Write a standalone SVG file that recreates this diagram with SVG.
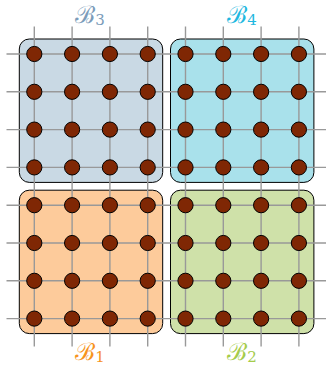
<svg xmlns="http://www.w3.org/2000/svg" width="326" height="365" viewBox="0 0 326 365">
<style>
.box{stroke:#000;stroke-width:1}
.grid line{stroke:#999;stroke-width:1.4}
.pt{fill:#7f2704;stroke:#000;stroke-width:1}
.lbl{font-family:"DejaVu Serif","Liberation Serif",serif;font-size:24px;text-anchor:middle}
.sub{font-size:15px}
</style>
<defs>
<g id="pts">
<circle class="pt" cx="0" cy="0" r="7.6"/>
<circle class="pt" cx="37.8" cy="0" r="7.6"/>
<circle class="pt" cx="75.6" cy="0" r="7.6"/>
<circle class="pt" cx="113.4" cy="0" r="7.6"/>
</g>
</defs>
<g id="block3">
<rect class="box" x="19.3" y="39" width="143.4" height="143.4" rx="10" fill="#c9d9e4"/>
<text class="lbl" x="90" y="23" fill="#7b9cba">ℬ<tspan class="sub" dy="2">3</tspan></text>
</g>
<g id="block4">
<rect class="box" x="170.5" y="39" width="143.4" height="143.4" rx="10" fill="#a9e1eb"/>
<text class="lbl" x="242" y="23" fill="#1fb8e0">ℬ<tspan class="sub" dy="2">4</tspan></text>
</g>
<g id="block1">
<rect class="box" x="19.3" y="190.2" width="143.4" height="143.4" rx="10" fill="#fdcb9b"/>
<text class="lbl" x="90" y="360" fill="#f7941d">ℬ<tspan class="sub" dy="2">1</tspan></text>
</g>
<g id="block2">
<rect class="box" x="170.5" y="190.2" width="143.4" height="143.4" rx="10" fill="#cfe1a9"/>
<text class="lbl" x="242" y="360" fill="#a5cc4b">ℬ<tspan class="sub" dy="2">2</tspan></text>
</g>
<g id="connectors" class="grid">
<line x1="34.3" y1="26.5" x2="34.3" y2="346.5"/>
<line x1="72.1" y1="26.5" x2="72.1" y2="346.5"/>
<line x1="109.9" y1="26.5" x2="109.9" y2="346.5"/>
<line x1="147.7" y1="26.5" x2="147.7" y2="346.5"/>
<line x1="185.5" y1="26.5" x2="185.5" y2="346.5"/>
<line x1="223.3" y1="26.5" x2="223.3" y2="346.5"/>
<line x1="261.1" y1="26.5" x2="261.1" y2="346.5"/>
<line x1="298.9" y1="26.5" x2="298.9" y2="346.5"/>
<line x1="6.5" y1="54" x2="326" y2="54"/>
<line x1="6.5" y1="91.8" x2="326" y2="91.8"/>
<line x1="6.5" y1="129.6" x2="326" y2="129.6"/>
<line x1="6.5" y1="167.4" x2="326" y2="167.4"/>
<line x1="6.5" y1="205.2" x2="326" y2="205.2"/>
<line x1="6.5" y1="243" x2="326" y2="243"/>
<line x1="6.5" y1="280.8" x2="326" y2="280.8"/>
<line x1="6.5" y1="318.6" x2="326" y2="318.6"/>
</g>
<g id="nodes3">
<use href="#pts" x="34.3" y="54"/><use href="#pts" x="34.3" y="91.8"/><use href="#pts" x="34.3" y="129.6"/><use href="#pts" x="34.3" y="167.4"/>
</g>
<g id="nodes4">
<use href="#pts" x="185.5" y="54"/><use href="#pts" x="185.5" y="91.8"/><use href="#pts" x="185.5" y="129.6"/><use href="#pts" x="185.5" y="167.4"/>
</g>
<g id="nodes1">
<use href="#pts" x="34.3" y="205.2"/><use href="#pts" x="34.3" y="243"/><use href="#pts" x="34.3" y="280.8"/><use href="#pts" x="34.3" y="318.6"/>
</g>
<g id="nodes2">
<use href="#pts" x="185.5" y="205.2"/><use href="#pts" x="185.5" y="243"/><use href="#pts" x="185.5" y="280.8"/><use href="#pts" x="185.5" y="318.6"/>
</g>
</svg>
